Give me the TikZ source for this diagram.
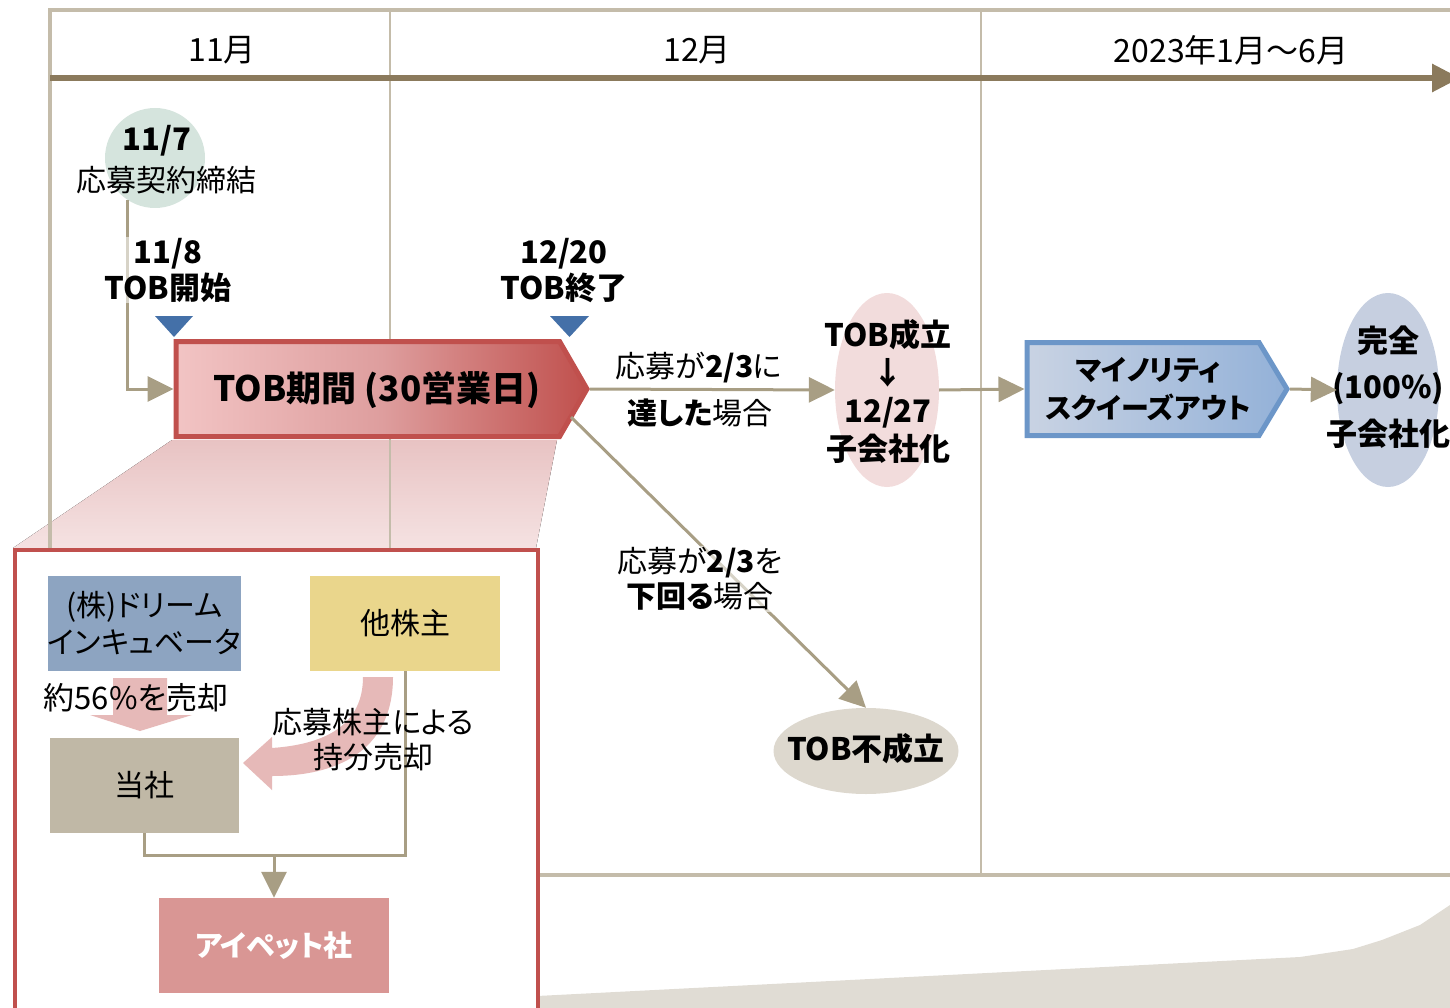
\documentclass[tikz,border=0pt]{standalone}
\usepackage{fontspec}
\setmainfont{Noto Sans CJK JP}[RawFeature=+palt]
\usetikzlibrary{arrows.meta,shapes.geometric,shapes.symbols}
\definecolor{frameC}{HTML}{C4BCAA}
\definecolor{timeC}{HTML}{8B7A5C}
\definecolor{lineC}{HTML}{A89E84}
\definecolor{markC}{HTML}{4470A8}
\definecolor{redC}{HTML}{C0504D}
\definecolor{redL}{HTML}{F2C4C4}
\definecolor{redM}{HTML}{DE9E9E}
\definecolor{pinkE}{HTML}{F2DCDC}
\definecolor{blueB}{HTML}{6C96C8}
\definecolor{blueL}{HTML}{C9D3E3}
\definecolor{blueR}{HTML}{93B1D8}
\definecolor{blueE}{HTML}{C6CFE0}
\definecolor{grayE}{HTML}{DDD8CE}
\definecolor{grayBg}{HTML}{E0DCD4}
\definecolor{circC}{HTML}{D5E4DD}
\definecolor{callTop}{HTML}{E8C3C3}
\definecolor{callBot}{HTML}{F5E2E2}
\definecolor{dreamC}{HTML}{8DA4C1}
\definecolor{otherC}{HTML}{EAD68C}
\definecolor{toshaC}{HTML}{C0B8A6}
\definecolor{ipetC}{HTML}{D99694}
\definecolor{pinkA}{HTML}{E6B9B8}
\tikzset{
  conn/.style={draw=lineC, line width=3pt},
  tipA/.style={-{Triangle[length=26pt,width=25pt]}},
  lbl/.style={font=\fontsize{30}{35}\selectfont, align=center, inner sep=0pt, text=black},
  mlbl/.style={font=\fontsize{32}{36}\selectfont, align=center, inner sep=0pt, text=black},
  blbl/.style={font=\fontsize{31}{36}\selectfont\bfseries, align=center, inner sep=0pt, text=black},
  veil/.style={fill=white, fill opacity=0.55, text opacity=1, inner sep=1pt},
  flatbox/.style={rectangle, inner sep=0pt, minimum height=95pt, align=center, font=\fontsize{30}{37}\selectfont},
}
\begin{document}
\begin{tikzpicture}[x=1pt,y=-1pt]
\useasboundingbox (0,0) rectangle (1450,1008);
% background decoration
\fill[grayBg] (537,996) -- (1300,957) -- (1353,949) -- (1382,940) -- (1420,925) -- (1450,905) -- (1460,900) -- (1460,1012) -- (537,1012) -- cycle;
% callout
\fill[top color=callTop, bottom color=callBot] (172,440) -- (557,440) -- (536,548) -- (13,548) -- cycle;
% frame
\draw[frameC, line width=4pt] (50,560) -- (50,10) -- (1460,10);
\draw[frameC, line width=4pt] (530,875) -- (1460,875);
\draw[frameC, line width=2.5pt] (390,10) -- (390,875);
\draw[frameC, line width=2.5pt] (981,10) -- (981,875);
\draw[timeC, line width=6pt, -{Triangle[length=28pt,width=27pt]}] (50,78) -- (1460,78);
% month labels
\node[mlbl] (m11) at (222,50) {11月};
\node[mlbl] (m12) at (697,50) {12月};
\node[mlbl] (m1) at (1231,50) {2023年1月～6月};
% 11/7
\node[circle, fill=circC, minimum size=100pt, inner sep=0pt] (c117) at (155,158) {};
\node[blbl] (t117) at (157,141) {11/7};
\node[lbl] (t117b) at (166,180) {応募契約締結};
% TOB period
\node[signal, signal to=east, signal pointer angle=120, draw=redC, line width=5pt,
      left color=redL, right color=redC, middle color=redM,
      minimum width=411pt, minimum height=95pt, inner sep=0pt, anchor=west] (tob) at (173.5,389) {};
\node[font=\fontsize{35}{40}\selectfont\bfseries, inner sep=0pt] (tobT) at (377,390) {TOB期間 (30営業日)};
\coordinate (c1) at (127,200);
\draw[conn,tipA] (c1) |- (tob.west);
\node[blbl, veil] (t118) at (168,270) {11/8\\TOB開始};
\node[blbl] (t1220) at (564,271) {12/20\\TOB終了};
\fill[markC] (155,316) -- (193,316) -- (174,337) -- cycle;
\fill[markC] (550,316) -- (589,316) -- (569.5,337) -- cycle;
% success
\node[ellipse, fill=pinkE, minimum width=104pt, minimum height=194pt, inner sep=0pt] (succ) at (887,390) {};
\node[blbl, font=\fontsize{31}{38}\selectfont\bfseries] (succT) at (888,392) {TOB成立\\↓\\12/27\\子会社化};
\draw[conn,tipA] (tob.east) -- (succ.west);
\node[lbl] (l1a) at (699,368) {応募が\textbf{2/3}に};
\node[lbl] (l1b) at (700,413) {\textbf{達した}場合};
% minority squeeze out
\node[signal, signal to=east, signal pointer angle=118, draw=blueB, line width=5pt,
      left color=blueL, right color=blueR,
      minimum width=260pt, minimum height=93pt, inner sep=0pt, anchor=west] (mso) at (1024.5,389) {};
\node[font=\fontsize{28}{38}\selectfont\bfseries, align=center, inner sep=0pt] (msoT) at (1148,389) {マイノリティ\\スクイーズアウト};
\draw[conn,tipA] (succ.east) -- (mso.west);
% full subsidiary
\node[ellipse, fill=blueE, minimum width=102pt, minimum height=194pt, inner sep=0pt] (full) at (1388,390) {};
\node[blbl, font=\fontsize{31}{46.5}\selectfont\bfseries] (fullT) at (1388,387) {完全\\(100\%)\\子会社化};
\draw[conn,tipA] (mso.east) -- (full.west);
% failure
\node[ellipse, fill=grayE, minimum width=185pt, minimum height=86pt, inner sep=0pt] (fail) at (866,751) {};
\node[blbl] (failT) at (866,749) {TOB不成立};
\coordinate (d0) at (571,417);
\draw[conn,tipA] (d0) -- (fail.north);
\node[lbl, veil] (l2) at (700,579) {応募が\textbf{2/3}を\\\textbf{下回る}場合};
% detail panel
\node[rectangle, draw=redC, line width=3.5pt, fill=white, minimum width=523pt, minimum height=520pt, anchor=north west, inner sep=0pt] (panel) at (13,548) {};
\node[flatbox, fill=dreamC, minimum width=189pt] (dream) at (144.5,623.5) {(株)ドリーム\\インキュベータ};
\node[flatbox, fill=otherC, minimum width=190pt] (other) at (405,623.5) {他株主};
\node[flatbox, fill=toshaC, minimum width=189pt] (tosha) at (144.5,785.5) {当社};
\node[flatbox, fill=ipetC, minimum width=230pt, text=white, font=\fontsize{29}{35}\selectfont\bfseries] (ipet) at (274,945.5) {アイペット社};
% pink arrows
\fill[pinkA] (113,678) -- (167,678) -- (167,715) -- (192,715) -- (140,731) -- (90,715) -- (113,715) -- cycle;
\fill[pinkA] (363,677) -- (393,677) .. controls (393,745) and (345,776) .. (272,776) -- (272,790) -- (243,763) -- (272,737) -- (272,748) .. controls (330,744) and (363,722) .. (363,677) -- cycle;
\node[lbl, font=\fontsize{31}{36}\selectfont] (sell1) at (136,698) {約56\%を売却};
% connectors
\coordinate (j) at (274,855);
\draw[conn] (tosha.south) |- (j) -| (other.south);
\draw[conn,tipA] (j) -- (ipet.north);
\node[lbl] (sell2) at (373,740) {応募株主による\\持分売却};
\end{tikzpicture}
\end{document}
